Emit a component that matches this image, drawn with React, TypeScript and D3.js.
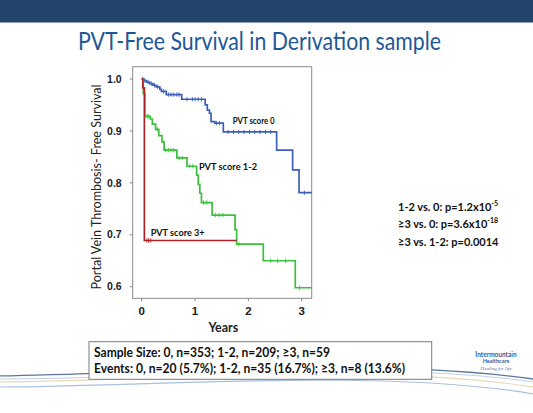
import React from "react";
import * as d3 from "d3";

// ---- data ----
const yTicks = [0.6, 0.7, 0.8, 0.9, 1.0];
const xTicks = [0, 1, 2, 3];

const score0Times = [0, 0.04, 0.09, 0.15, 0.21, 0.27, 0.34, 0.37, 0.46, 0.75, 1.19, 1.23, 1.27, 1.3, 1.37, 1.53, 2.53, 2.83, 2.95];
const score0Surv = [1.0, 0.997, 0.994, 0.991, 0.988, 0.985, 0.98, 0.976, 0.97, 0.961, 0.95, 0.94, 0.934, 0.918, 0.915, 0.898, 0.863, 0.825, 0.781];
const score0End = 3.19;
const score0Censor = [0.02, 0.06, 0.12, 0.18, 0.24, 0.3, 0.41, 0.5, 0.55, 0.6, 0.66, 0.7, 0.85, 0.95, 1.0, 1.06, 1.12, 1.4, 1.46, 1.62, 1.72, 1.82, 1.92, 2.02, 2.12, 2.22, 2.32, 2.42, 3.05];

const score12Times = [0, 0.03, 0.06, 0.16, 0.2, 0.26, 0.32, 0.38, 0.42, 0.66, 0.85, 1.03, 1.06, 1.09, 1.12, 1.32, 1.75, 1.78, 2.28, 2.88];
const score12Surv = [1.0, 0.972, 0.928, 0.923, 0.913, 0.903, 0.891, 0.879, 0.863, 0.848, 0.832, 0.815, 0.797, 0.78, 0.762, 0.738, 0.71, 0.682, 0.65, 0.598];
const score12End = 3.19;
const score12Censor = [0.1, 0.13, 0.29, 0.45, 0.5, 0.55, 0.6, 0.7, 0.76, 0.9, 0.96, 1.16, 1.22, 1.38, 1.45, 1.52, 1.82, 2.42, 2.55, 2.7, 2.96];

const score3Times = [0, 0.02, 0.05];
const score3Surv = [1.0, 0.983, 0.689];
const score3End = 1.78;
const score3Censor = [0.1, 0.13, 0.17];

const seriesNames = ["PVT score 0", "PVT score 1-2", "PVT score 3+"];
const pLines = [
  { base: "1-2 vs. 0: p=1.2x10", sup: "-5" },
  { base: "\u22653 vs. 0: p=3.6x10", sup: "-18" },
  { base: "\u22653 vs. 1-2: p=0.0014", sup: "" },
];
const boxLines = [
  "Sample Size: 0, n=353; 1-2, n=209; \u22653, n=59",
  "Events: 0, n=20 (5.7%); 1-2, n=35 (16.7%); \u22653, n=8 (13.6%)",
];

// ---- layout ----
const W = 533, H = 413;
const frame = { left: 132.7, right: 311.7, top: 66.7, bottom: 298.3 };
const x = d3.scaleLinear().domain([0, 3]).range([141.7, 301.7]);
const y = d3.scaleLinear().domain([0.6, 1.0]).range([286.7, 79]);

const FONT = "Lato, 'Open Sans', sans-serif";

function stepPoints(times: number[], surv: number[], end: number): [number, number][] {
  const pts: [number, number][] = times.map((t, i) => [t, surv[i]]);
  pts.push([end, surv[surv.length - 1]]);
  return pts;
}
function survAt(times: number[], surv: number[], t: number) {
  let v = surv[0];
  for (let i = 0; i < times.length; i++) if (times[i] <= t) v = surv[i];
  return v;
}

const line = d3
  .line<[number, number]>()
  .x((d) => x(d[0]))
  .y((d) => y(d[1]))
  .curve(d3.curveStepAfter);

const series = [
  { times: score0Times, surv: score0Surv, end: score0End, censor: score0Censor, color: "#3d5fb8" },
  { times: score12Times, surv: score12Surv, end: score12End, censor: score12Censor, color: "#3cbf3c" },
  { times: score3Times, surv: score3Surv, end: score3End, censor: score3Censor, color: "#ad2229" },
];

export default function App() {
  return (
    <svg
      width={W}
      height={H}
      viewBox={`0 0 ${W} ${H}`}
      style={{ position: "absolute", left: 0, top: 0, background: "#fff" }}
    >
      <rect x={0} y={0} width={W} height={H} fill="#fff" />
      {/* header bar */}
      <rect x={0} y={0} width={W} height={22.5} fill="#22436c" />
      {/* title */}
      <text
        x={78}
        y={50}
        fontFamily={FONT}
        fontSize={25}
        fill="#1d5896"
        textLength={363}
        lengthAdjust="spacingAndGlyphs"
      >
        PVT-Free Survival in Derivation sample
      </text>

      {/* decorative swooshes */}
      <path d="M -5 376 C 150 374, 380 356, 540 380" fill="none" stroke="#3f5d8a" strokeWidth={1.3} opacity={0.85} />
      <path d="M -5 382 C 150 381, 380 362, 540 388" fill="none" stroke="#e6d9b8" strokeWidth={1.2} />
      <path d="M -5 387 C 150 387, 380 367, 540 395" fill="none" stroke="#a9c0e0" strokeWidth={1.2} />
      <path d="M -5 379 C 160 379, 390 359, 540 383" fill="none" stroke="#8fa9d0" strokeWidth={0.8} opacity={0.7} />

      {/* plot frame */}
      <rect
        x={frame.left}
        y={frame.top}
        width={frame.right - frame.left}
        height={frame.bottom - frame.top}
        fill="#fff"
        stroke="#8a8a8a"
        strokeWidth={1}
      />
      {/* y ticks */}
      {yTicks.map((t) => (
        <g key={"y" + t}>
          <line x1={frame.left - 3} x2={frame.left} y1={y(t)} y2={y(t)} stroke="#8a8a8a" />
          <text
            x={121.7}
            y={y(t)}
            dy="0.35em"
            textAnchor="end"
            fontFamily="'Liberation Sans', Arial, sans-serif"
            fontWeight="bold"
            fontSize={10.5}
            fill="#222"
          >
            {t.toFixed(1)}
          </text>
        </g>
      ))}
      {/* x ticks */}
      {xTicks.map((t) => (
        <g key={"x" + t}>
          <line x1={x(t)} x2={x(t)} y1={frame.bottom} y2={frame.bottom + 3} stroke="#8a8a8a" />
          <text
            x={x(t)}
            y={315}
            textAnchor="middle"
            fontFamily="'Liberation Sans', Arial, sans-serif"
            fontWeight="bold"
            fontSize={11.5}
            fill="#222"
          >
            {t}
          </text>
        </g>
      ))}
      <text x={223.3} y={331.5} textAnchor="middle" fontFamily={FONT} fontWeight="bold" fontSize={12.5} fill="#222">
        Years
      </text>
      <text
        transform="translate(101,187) rotate(-90)"
        textAnchor="middle"
        fontFamily={FONT}
        fontSize={13}
        fill="#222"
        textLength={205}
        lengthAdjust="spacingAndGlyphs"
      >
        Portal Vein Thrombosis- Free Survival
      </text>

      {/* curves */}
      {series.map((s, i) => (
        <g key={"s" + i}>
          <path d={line(stepPoints(s.times, s.surv, s.end)) || ""} fill="none" stroke={s.color} strokeWidth={1.7} />
          {s.censor.map((c, j) => {
            const v = survAt(s.times, s.surv, c);
            return (
              <line key={j} x1={x(c)} x2={x(c)} y1={y(v) - 2.2} y2={y(v) + 2.2} stroke={s.color} strokeWidth={0.9} />
            );
          })}
        </g>
      ))}

      {/* series labels */}
      <text x={232.7} y={124} fontFamily={FONT} fontWeight="bold" fontSize={10} fill="#111" textLength={42} lengthAdjust="spacingAndGlyphs">
        {seriesNames[0]}
      </text>
      <text x={199} y={170} fontFamily={FONT} fontWeight="bold" fontSize={10} fill="#111" textLength={58} lengthAdjust="spacingAndGlyphs">
        {seriesNames[1]}
      </text>
      <text x={150.7} y={236} fontFamily={FONT} fontWeight="bold" fontSize={10} fill="#111" textLength={54} lengthAdjust="spacingAndGlyphs">
        {seriesNames[2]}
      </text>

      {/* p-values */}
      {pLines.map((p, i) => (
        <text key={"p" + i} x={398} y={210.5 + i * 17.5} fontFamily={FONT} fontWeight="bold" fontSize={11} fill="#111">
          {p.base}
          {p.sup && (
            <tspan fontSize={7} dy={-5}>
              {p.sup}
            </tspan>
          )}
        </text>
      ))}

      {/* bottom box */}
      <rect x={89} y={341.7} width={342.7} height={37.6} fill="#fff" stroke="#7a7a7a" strokeWidth={1} />
      <text x={94} y={357} fontFamily={FONT} fontWeight="bold" fontSize={12.5} fill="#111" textLength={236} lengthAdjust="spacingAndGlyphs">
        {boxLines[0]}
      </text>
      <text x={94} y={372.5} fontFamily={FONT} fontWeight="bold" fontSize={12.5} fill="#111" textLength={311} lengthAdjust="spacingAndGlyphs">
        {boxLines[1]}
      </text>

      {/* logo */}
      <text x={496} y={357} textAnchor="middle" fontFamily={FONT} fontWeight="bold" fontSize={6.5} fill="#3a5da0">
        Intermountain
      </text>
      <text x={496} y={363} textAnchor="middle" fontFamily={FONT} fontWeight="bold" fontSize={5.5} fill="#3a5da0">
        Healthcare
      </text>
      <text x={496} y={370} textAnchor="middle" fontFamily="serif" fontStyle="italic" fontSize={5} fill="#5a6f9c">
        Healing for life
      </text>
    </svg>
  );
}
